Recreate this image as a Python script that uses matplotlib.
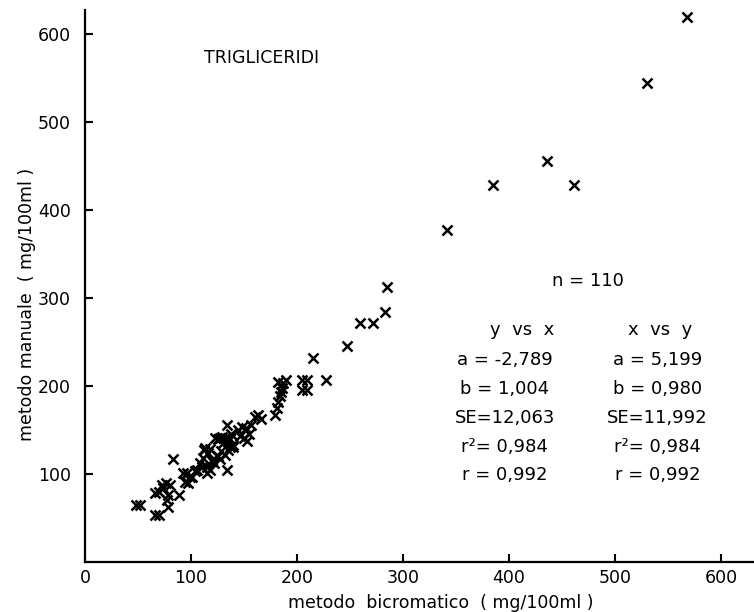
import matplotlib
matplotlib.use("Agg")
import matplotlib.pyplot as plt

# metodo bicromatico (x) vs metodo manuale (y), mg/100ml
x_bicrom = [48, 52, 66, 70, 66, 70, 73, 76, 80, 74, 78, 77, 78, 83, 89,
            92, 96, 99, 94, 101, 104, 97, 106, 108, 110, 111, 115, 118, 120, 112,
            113, 116, 118, 120, 122, 125, 127, 115, 123, 127, 132, 135, 137, 140,
            125, 129, 133, 137, 130, 135, 140, 138, 132, 128, 134, 134,
            144, 148, 152, 155, 153, 150, 157, 146,
            160, 163, 166, 179, 181, 182, 184, 185, 187, 190, 186, 182,
            205, 209, 205, 209, 215, 227, 247, 259, 272, 283, 285,
            341, 385, 436, 461, 530, 568]
y_manuale = [65, 65, 53, 53, 78, 80, 88, 90, 88, 84, 76, 70, 63, 117, 76,
             101, 101, 97, 91, 97, 103, 90, 105, 112, 108, 118, 101, 105, 116, 127,
             130, 124, 128, 115, 112, 120, 117, 108, 141, 141, 141, 141, 131, 131,
             140, 142, 140, 140, 135, 127, 133, 145, 122, 126, 156, 104,
             150, 153, 152, 145, 138, 141, 156, 143,
             165, 167, 162, 167, 175, 182, 188, 193, 203, 207, 198, 204,
             207, 207, 195, 195, 232, 207, 245, 272, 272, 284, 312,
             377, 428, 455, 428, 544, 619]

x_ticks = [0, 100, 200, 300, 400, 500, 600]
y_ticks = [100, 200, 300, 400, 500, 600]

stats_yx = ["a = -2,789", "b = 1,004", "SE=12,063", "r²= 0,984", "r = 0,992"]
stats_xy = ["a = 5,199", "b = 0,980", "SE=11,992", "r²= 0,984", "r = 0,992"]

plt.rcParams['font.family'] = ['DejaVu Sans']

fig = plt.figure(figsize=(7.54, 6.12), dpi=100)
ax = fig.add_axes([85/754, 50/612, 669/754, 552/612])

ax.plot(x_bicrom, y_manuale, linestyle='none', marker='x', color='black',
        markersize=7, markeredgewidth=1.8)

ax.set_xlim(0, 631)
ax.set_ylim(0, 627)
ax.set_xticks(x_ticks)
ax.set_yticks(y_ticks)
ax.tick_params(direction='in', length=6, width=1.5, labelsize=12.5, color='black')
ax.tick_params(axis='y', pad=10)
ax.tick_params(axis='x', pad=5)

for side in ['top', 'right']:
    ax.spines[side].set_visible(False)
for side in ['left', 'bottom']:
    ax.spines[side].set_linewidth(1.6)
    ax.spines[side].set_color('black')

ax.set_xlabel("metodo  bicromatico  ( mg/100ml )", fontsize=12.5)
ax.set_ylabel("metodo manuale  ( mg/100ml )", fontsize=12.5)
ax.xaxis.set_label_coords(0.532, -0.058)
ax.yaxis.set_label_coords(-0.073, 0.466)

# titolo interno
ax.text(167, 573, "TRIGLICERIDI", fontsize=12.5, ha='center', va='center')

# statistiche di regressione
ax.text(474, 319, "n = 110", fontsize=13, ha='center', va='center')
ax.text(412, 264, "y  vs  x", fontsize=13, ha='center', va='center')
ax.text(542, 264, "x  vs  y", fontsize=13, ha='center', va='center')
line_y = [229, 196, 163, 131, 99]
for i in range(len(stats_yx)):
    ax.text(396, line_y[i], stats_yx[i], fontsize=13, ha='center', va='center')
    ax.text(540, line_y[i], stats_xy[i], fontsize=13, ha='center', va='center')

plt.savefig('out.png', dpi=100)
